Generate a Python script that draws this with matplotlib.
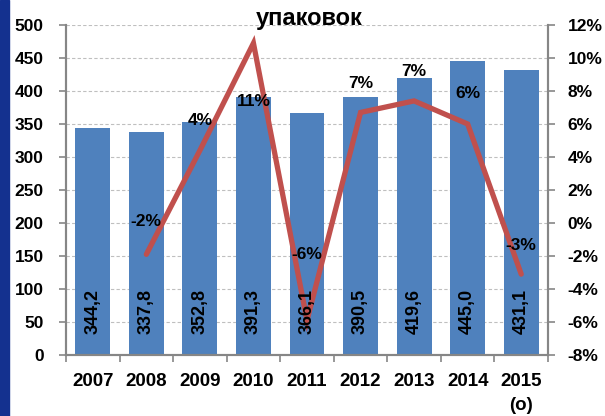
import matplotlib
matplotlib.use("Agg")
import matplotlib.pyplot as plt
from matplotlib.patches import Rectangle
import numpy as np

years = ["2007", "2008", "2009", "2010", "2011", "2012", "2013", "2014", "2015\n(o)"]
volumes = [344.2, 337.8, 352.8, 391.3, 366.1, 390.5, 419.6, 445.0, 431.1]
vol_labels = ["344,2", "337,8", "352,8", "391,3", "366,1", "390,5", "419,6", "445,0", "431,1"]
growth = [-1.9, 4.4, 10.9, -5.9, 6.7, 7.4, 6.0, -3.1]  # % for 2008..2015
growth_labels = ["-2%", "4%", "11%", "-6%", "7%", "7%", "6%", "-3%"]
# label vertical offsets (px) relative to the line point
label_offsets = [33, 30, -58, 66, 29, 29, 30, 29]

plt.rcParams['font.family'] = ['Liberation Sans', 'DejaVu Sans']
plt.rcParams['font.weight'] = 'bold'

fig = plt.figure(figsize=(6.05, 4.16), dpi=100)
ax = fig.add_axes([66/605, 1-355/416, (548-66)/605, 330/416])
ax2 = ax.twinx()

x = np.arange(len(years))
bar_color = "#4F81BD"
line_color = "#C0504D"
grid_color = "#BFBFBF"
axis_color = "#868686"

ax.bar(x, volumes, width=0.65, color=bar_color, zorder=2)
ax.set_xlim(-0.5, len(years) - 0.5)
ax.set_ylim(0, 500)
ax.set_yticks(np.arange(0, 501, 50))
ax.yaxis.grid(True, linestyle=(0, (3, 2)), color=grid_color, linewidth=0.8, zorder=0)
ax.set_axisbelow(True)

ax.set_xticks(x)
ax.set_xticklabels(years, fontsize=13.5, fontweight='bold', linespacing=1.55, va='top')
ax.set_xticks(np.arange(-0.5, len(years), 1), minor=True)
ax.tick_params(axis='x', which='major', length=0, pad=13)
ax.tick_params(axis='x', which='minor', length=5, direction='out', color=axis_color, width=1.2)
ax.tick_params(axis='y', length=5, direction='out', color=axis_color, width=1.2, labelsize=12.5, pad=11)
for lab in ax.get_yticklabels():
    lab.set_fontweight('bold')

ax2.set_ylim(-8, 12)
ax2.set_yticks(np.arange(-8, 13, 2))
ax2.set_yticklabels([f"{v}%" for v in range(-8, 13, 2)], fontsize=12.5, fontweight='bold')
ax2.tick_params(axis='y', length=5, direction='out', color=axis_color, width=1.2, pad=9)

ax2.plot(x[1:], growth, color=line_color, linewidth=3.8, solid_capstyle='round',
         solid_joinstyle='miter', zorder=4)

for xi, lab in zip(x, vol_labels):
    ax2.text(xi, 32, lab, transform=ax.transData, rotation=90, ha='center', va='bottom',
             fontsize=13, fontweight='bold', color='black', zorder=6)

for xi, g, lab, off in zip(x[1:], growth, growth_labels, label_offsets):
    ax2.annotate(lab, (xi, g), xytext=(0, off * 0.72), textcoords='offset points',
                 ha='center', va='center', fontsize=12.5, fontweight='bold', zorder=6)

for a in (ax, ax2):
    a.spines['top'].set_visible(False)
    for s in ('left', 'right', 'bottom'):
        a.spines[s].set_color(axis_color)
        a.spines[s].set_linewidth(1.5)

fig.text(309/605, 1-25/416, "упаковок", ha='center', va='baseline', fontsize=17, fontweight='bold')
fig.patches.append(Rectangle((0, 0), 9/605, 1, transform=fig.transFigure,
                             color="#14318F", zorder=10))

fig.savefig("out.png", dpi=100)
